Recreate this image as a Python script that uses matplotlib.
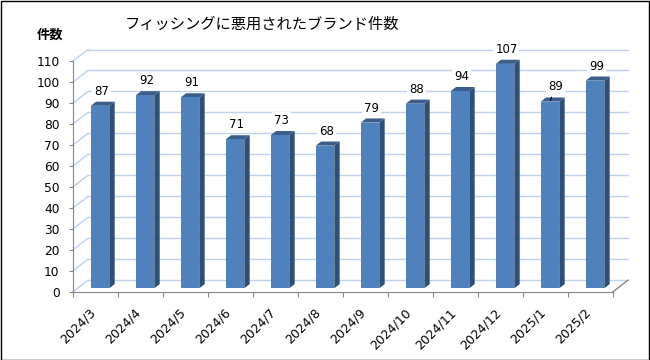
import matplotlib
matplotlib.use("Agg")
import matplotlib.pyplot as plt
from matplotlib.patches import Polygon, Rectangle
from matplotlib.transforms import ScaledTranslation

# data
months = ["2024/3", "2024/4", "2024/5", "2024/6", "2024/7", "2024/8",
          "2024/9", "2024/10", "2024/11", "2024/12", "2025/1", "2025/2"]
counts = [87, 92, 91, 71, 73, 68, 79, 88, 94, 107, 89, 99]
yticks = list(range(0, 111, 10))
title = "フィッシングに悪用されたブランド件数"
ylabel = "件数"

plt.rcParams["font.family"] = ["DejaVu Sans", "Noto Sans CJK JP"]

# pseudo 3d geometry (data units)
DX = 15 / 45          # depth offset in x
DY = 11.5 / 2.097     # depth offset in y
BAR_W = 0.413
D0, D1 = 0.30, 0.66   # bar depth range (fraction of floor depth)
GRID = "#BDD2EE"
AXC = "#868686"
FRONT, SIDE, TOP = "#4F81BD", "#2E5078", "#3A5D8C"

fig = plt.figure(figsize=(6.5, 3.6), dpi=100)
ax = fig.add_axes([73 / 650, (360 - 291.7) / 360, 555 / 650, 251.7 / 360])
ax.set_xlim(0, 555 / 45)
ax.set_ylim(0, 251.7 / 2.097)
ax.patch.set_visible(False)

# walls: left wall diagonals and back wall gridlines
for v in yticks:
    ax.plot([0, DX], [v, v + DY], color=GRID, lw=1, zorder=1, clip_on=False)
    ax.plot([DX, len(months) + DX], [v + DY, v + DY], color=GRID, lw=1,
            zorder=1, clip_on=False)
# floor right edge
ax.plot([len(months), len(months) + DX], [0, DY], color=AXC, lw=1, zorder=2,
        clip_on=False)

# bars
for i, v in enumerate(counts):
    x0 = i + (1 - BAR_W) / 2 + D0 * DX
    x1 = x0 + BAR_W
    y0 = D0 * DY
    ddx, ddy = (D1 - D0) * DX, (D1 - D0) * DY
    ax.add_patch(Polygon([(x1, y0), (x1 + ddx, y0 + ddy), (x1 + ddx, y0 + v + ddy),
                          (x1, y0 + v)], closed=True, fc=SIDE, ec="none", zorder=3))
    ax.add_patch(Polygon([(x0, y0 + v), (x1, y0 + v), (x1 + ddx, y0 + v + ddy),
                          (x0 + ddx, y0 + v + ddy)], closed=True, fc=TOP, ec="none",
                         zorder=3))
    ax.add_patch(Rectangle((x0, y0), BAR_W, v, fc=FRONT, ec="none", zorder=4))
    cx = (x0 + x1) / 2
    kw = dict(ha="center", va="center", fontsize=8.5, zorder=5,
              textcoords="offset points",
              bbox=dict(boxstyle="square,pad=0.15", fc="white", ec="none"))
    if months[i] == "2025/1":
        ax.annotate(str(v), xy=(cx, y0 + v), xytext=(4, 11),
                    arrowprops=dict(arrowstyle="-", color="black", lw=0.8,
                                    shrinkA=2, shrinkB=1), **kw)
    else:
        ax.annotate(str(v), xy=(cx, y0 + v), xytext=(1, 10.5), **kw)

# axes styling
for s in ["top", "right"]:
    ax.spines[s].set_visible(False)
ax.spines["left"].set_bounds(0, 110)
ax.spines["bottom"].set_bounds(0, len(months))
ax.spines["left"].set_color(AXC)
ax.spines["bottom"].set_color(AXC)
ax.set_yticks(yticks)
ax.tick_params(axis="y", colors=AXC, length=3.2, pad=6.5, labelsize=8.8,
               labelcolor="black")
ax.set_xticks(range(len(months) + 1))
ax.set_xticklabels([])
ax.tick_params(axis="x", which="major", colors=AXC, length=3.6)
ax.set_xticks([i + 0.5 for i in range(len(months))], minor=True)
ax.set_xticklabels(months, minor=True, rotation=45, ha="right", va="top",
                   fontsize=9)
ax.tick_params(axis="x", which="minor", length=0, pad=10.5)
for lab in ax.get_xticklabels(minor=True):
    lab.set_transform(lab.get_transform() + ScaledTranslation(3 / 100, 0, fig.dpi_scale_trans))

fig.text(262 / 650, 1 - 24 / 360, title, ha="center", va="center",
         fontsize=11, family=["Noto Sans CJK JP"])
fig.text(50 / 650, 1 - 35 / 360, ylabel, ha="center", va="center",
         fontsize=9.5, fontweight="bold", family=["Noto Sans CJK JP"])

fig.add_artist(Rectangle((0.5 / 650, 0.5 / 360), 648.5 / 650, 358.5 / 360,
                         transform=fig.transFigure, fill=False, ec="black", lw=1))

fig.savefig("out.png", dpi=100)
